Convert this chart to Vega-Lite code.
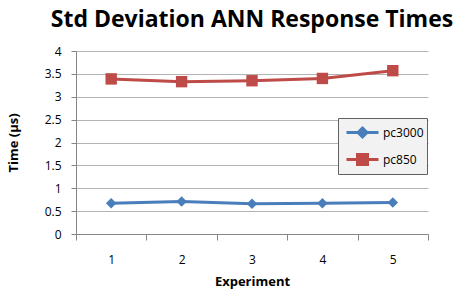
{
  "$schema": "https://vega.github.io/schema/vega-lite/v6.json",
  "autosize": {"type": "none"},
  "width": 352,
  "height": 183,
  "padding": {"left": 76, "top": 51, "right": 38, "bottom": 56},
  "background": "white",
  "title": {
    "text": "Std Deviation ANN Response Times",
    "font": "Open Sans",
    "fontSize": 23,
    "fontWeight": "bold",
    "color": "#000000",
    "anchor": "middle",
    "offset": 13
  },
  "data": {
    "values": [
      {"experiment": 1, "series": "pc3000", "time": 0.67},
      {"experiment": 2, "series": "pc3000", "time": 0.71},
      {"experiment": 3, "series": "pc3000", "time": 0.66},
      {"experiment": 4, "series": "pc3000", "time": 0.67},
      {"experiment": 5, "series": "pc3000", "time": 0.69},
      {"experiment": 1, "series": "pc850", "time": 3.39},
      {"experiment": 2, "series": "pc850", "time": 3.33},
      {"experiment": 3, "series": "pc850", "time": 3.35},
      {"experiment": 4, "series": "pc850", "time": 3.4},
      {"experiment": 5, "series": "pc850", "time": 3.57}
    ]
  },
  "encoding": {
    "x": {
      "field": "experiment",
      "type": "ordinal",
      "title": "Experiment",
      "scale": {"paddingInner": 0, "paddingOuter": 0},
      "axis": {
        "labelAngle": 0,
        "tickBand": "extent",
        "tickSize": 6,
        "tickColor": "#868686",
        "domainColor": "#868686",
        "labelFont": "Open Sans",
        "labelFontSize": 12,
        "labelColor": "#000000",
        "labelPadding": 14,
        "titleFont": "Open Sans",
        "titleFontSize": 13,
        "titleFontWeight": "bold",
        "titleColor": "#000000",
        "titlePadding": 10
      }
    },
    "y": {
      "field": "time",
      "type": "quantitative",
      "title": "Time (µs)",
      "scale": {"domain": [0, 4], "nice": false},
      "axis": {
        "values": [0, 0.5, 1, 1.5, 2, 2.5, 3, 3.5, 4],
        "labelExpr": "datum.value",
        "grid": true,
        "gridColor": "#b3b3b3",
        "gridWidth": 1,
        "tickSize": 5,
        "tickColor": "#868686",
        "domainColor": "#868686",
        "labelFont": "Open Sans",
        "labelFontSize": 12,
        "labelColor": "#000000",
        "labelPadding": 10,
        "titleFont": "Open Sans",
        "titleFontSize": 13,
        "titleFontWeight": "bold",
        "titleColor": "#000000",
        "titlePadding": 24
      }
    },
    "color": {
      "field": "series",
      "type": "nominal",
      "scale": {"domain": ["pc3000", "pc850"], "range": ["#4a7ebb", "#be4b48"]},
      "legend": {
        "title": null,
        "orient": "none",
        "legendX": 262,
        "legendY": 67,
        "fillColor": "#f2f2f2",
        "strokeColor": "#606060",
        "padding": 3,
        "symbolSize": 400,
        "symbolStrokeWidth": 3,
        "symbolOffset": 10,
        "rowPadding": 5,
        "labelFont": "Open Sans",
        "labelFontSize": 12,
        "labelColor": "#000000",
        "labelOffset": 9,
        "encode": {
          "symbols": {
            "update": {
              "shape": {"signal": "datum.value === 'pc3000' ? 'M-1.6,0L1.6,0M0,-0.45L0.45,0L0,0.45L-0.45,0Z' : 'M-1.6,0L1.6,0M-0.5,-0.5L0.5,-0.5L0.5,0.5L-0.5,0.5Z'"},
              "fill": {"signal": "scale('color', datum.value)"},
              "stroke": {"signal": "scale('color', datum.value)"},
              "strokeWidth": {"value": 3},
              "opacity": {"value": 1}
            }
          }
        }
      }
    }
  },
  "layer": [
    {"mark": {"type": "line", "strokeWidth": 3}},
    {
      "transform": [{"filter": "datum.series === 'pc3000'"}],
      "mark": {"type": "point", "filled": true, "opacity": 1, "shape": "diamond", "size": 110}
    },
    {
      "transform": [{"filter": "datum.series === 'pc850'"}],
      "mark": {"type": "point", "filled": true, "opacity": 1, "shape": "square", "size": 130}
    }
  ],
  "config": {"view": {"stroke": null}}
}
